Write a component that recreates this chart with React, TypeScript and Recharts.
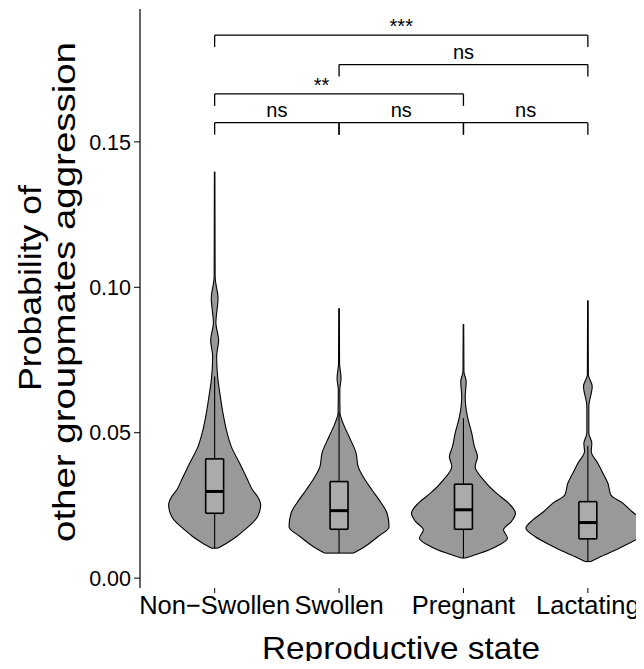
import React from 'react';
import {
  ComposedChart,
  Area,
  XAxis,
  YAxis,
  ReferenceLine,
  ReferenceDot,
} from 'recharts';

const states = ['Non\u2212Swollen', 'Swollen', 'Pregnant', 'Lactating'];

// violin outlines: [probability, half width in category units]
const nonSwollenViolin = [
  [0.0103, 0.024], [0.012, 0.096], [0.0143, 0.177], [0.0166, 0.241], [0.019, 0.305],
  [0.0212, 0.346], [0.0252, 0.37], [0.028, 0.346], [0.0303, 0.305], [0.0338, 0.265],
  [0.0395, 0.201], [0.0452, 0.134], [0.051, 0.094], [0.0567, 0.067], [0.0624, 0.046],
  [0.068, 0.027], [0.0762, 0.016], [0.0819, 0.032], [0.0877, 0.01], [0.0962, 0.027],
  [0.1036, 0.004], [0.12, 0.003], [0.1397, 0.002],
];
const swollenViolin = [
  [0.0086, 0.117], [0.0109, 0.209], [0.0143, 0.314], [0.0177, 0.402], [0.0223, 0.386],
  [0.0269, 0.322], [0.0303, 0.265], [0.0338, 0.209], [0.0384, 0.153], [0.043, 0.137],
  [0.0487, 0.08], [0.0533, 0.032], [0.0567, 0.008], [0.0647, 0.006], [0.0687, 0.016],
  [0.0739, 0.004], [0.0928, 0.002],
];
const pregnantViolin = [
  [0.0069, 0.016], [0.0086, 0.137], [0.0109, 0.265], [0.0137, 0.354], [0.0166, 0.322],
  [0.0195, 0.386], [0.0223, 0.418], [0.0258, 0.362], [0.0292, 0.265], [0.0338, 0.161],
  [0.0384, 0.094], [0.0418, 0.113], [0.0452, 0.088], [0.0498, 0.067], [0.0555, 0.032],
  [0.0624, 0.014], [0.0676, 0.022], [0.071, 0.004], [0.0874, 0.002],
];
const lactatingViolin = [
  [0.0057, 0.024], [0.0074, 0.105], [0.0109, 0.281], [0.0143, 0.426], [0.0172, 0.498],
  [0.02, 0.442], [0.0229, 0.354], [0.0258, 0.281], [0.0286, 0.185], [0.0326, 0.161],
  [0.0361, 0.121], [0.0395, 0.08], [0.0435, 0.027], [0.0464, 0.032], [0.0498, 0.008],
  [0.059, 0.008], [0.066, 0.035], [0.0699, 0.004], [0.0955, 0.002],
];

// boxplot stats per state
const whiskerLow = [0.0103, 0.0086, 0.0069, 0.0057];
const quartile1 = [0.0223, 0.0168, 0.0168, 0.0135];
const medians = [0.0298, 0.0232, 0.0235, 0.0191];
const quartile3 = [0.041, 0.0332, 0.0323, 0.0263];
const whiskerHigh = [0.0693, 0.057, 0.055, 0.0455];

// significance brackets (group indexes are 1-based)
const comparisons = [
  { from: 1, to: 2, y: 0.1566, label: 'ns' },
  { from: 2, to: 3, y: 0.1566, label: 'ns' },
  { from: 3, to: 4, y: 0.1566, label: 'ns' },
  { from: 1, to: 3, y: 0.1665, label: '**', labelAt: 1.86 },
  { from: 2, to: 4, y: 0.1766, label: 'ns' },
  { from: 1, to: 4, y: 0.1867, label: '***' },
];

const yTicks = [0, 0.05, 0.1, 0.15];
const xTicks = [1, 2, 3, 4];

const BOX_HALF = 0.072;
const TIP = 0.0041;
const font = '"Liberation Sans", Arial, sans-serif';

const violins = [nonSwollenViolin, swollenViolin, pregnantViolin, lactatingViolin];
// one small table per violin, each row a [left, right] range at height y
const violinTables = violins.map((pts, i) =>
  pts.map(([y, w]) => ({ y, band: [i + 1 - w, i + 1 + w] }))
);
const boxTables = states.map((_, i) => [
  { y: quartile1[i], band: [i + 1 - BOX_HALF, i + 1 + BOX_HALF] },
  { y: quartile3[i], band: [i + 1 - BOX_HALF, i + 1 + BOX_HALF] },
]);

const seg = (x1: number, y1: number, x2: number, y2: number) => [
  { x: x1, y: y1 },
  { x: x2, y: y2 },
];

export default function App() {
  return (
    <div
      style={{
        margin: -8,
        width: 644,
        height: 669,
        overflow: 'hidden',
        position: 'relative',
        background: '#fff',
        fontFamily: font,
      }}
    >
      <ComposedChart
        layout="vertical"
        width={670}
        height={669}
        data={violinTables[0]}
        margin={{ top: 9, right: 7.5, bottom: 0, left: 0 }}
      >
        <XAxis
          type="number"
          domain={[0.4, 4.6]}
          allowDataOverflow
          ticks={xTicks}
          interval={0}
          tickFormatter={(v) => states[v - 1]}
          axisLine={false}
          tickLine={{ stroke: '#000', strokeWidth: 1 }}
          tickSize={5}
          tickMargin={3}
          height={81}
          tick={{ fontSize: 25.5, fill: '#000' }}
        />
        <YAxis
          type="number"
          dataKey="y"
          reversed
          domain={[-0.0034, 0.1957]}
          allowDataOverflow
          ticks={yTicks}
          interval={0}
          tickFormatter={(v) => v.toFixed(2)}
          width={140}
          axisLine={{ stroke: '#000', strokeWidth: 1.2 }}
          tickLine={{ stroke: '#000', strokeWidth: 1 }}
          tickSize={6}
          tickMargin={3}
          tick={{ fontSize: 21.5, fill: '#000' }}
        />
        {violinTables.map((table, i) => (
          <Area
            key={`violin-${i}`}
            data={table}
            dataKey="band"
            type="monotoneY"
            fill="#999999"
            fillOpacity={1}
            stroke="#000"
            strokeWidth={1.1}
            dot={false}
            activeDot={false}
            isAnimationActive={false}
          />
        ))}
        {violinTables.map((table, i) => (
          <ReferenceLine
            key={`vbottom-${i}`}
            segment={seg(table[0].band[0], table[0].y, table[0].band[1], table[0].y)}
            stroke="#000"
            strokeWidth={1.1}
          />
        ))}
        {boxTables.map((table, i) => (
          <Area
            key={`box-${i}`}
            data={table}
            dataKey="band"
            type="linear"
            fill="#ababab"
            fillOpacity={1}
            stroke="#000"
            strokeWidth={1.6}
            dot={false}
            activeDot={false}
            isAnimationActive={false}
          />
        ))}
        {states.flatMap((_, i) => [
          <ReferenceLine
            key={`wlow-${i}`}
            segment={seg(i + 1, whiskerLow[i], i + 1, quartile1[i])}
            stroke="#000"
            strokeWidth={1.1}
          />,
          <ReferenceLine
            key={`whigh-${i}`}
            segment={seg(i + 1, quartile3[i], i + 1, whiskerHigh[i])}
            stroke="#000"
            strokeWidth={1.1}
          />,
          <ReferenceLine
            key={`q1-${i}`}
            segment={seg(i + 1 - BOX_HALF, quartile1[i], i + 1 + BOX_HALF, quartile1[i])}
            stroke="#000"
            strokeWidth={1.6}
          />,
          <ReferenceLine
            key={`q3-${i}`}
            segment={seg(i + 1 - BOX_HALF, quartile3[i], i + 1 + BOX_HALF, quartile3[i])}
            stroke="#000"
            strokeWidth={1.6}
          />,
          <ReferenceLine
            key={`median-${i}`}
            segment={seg(i + 1 - BOX_HALF, medians[i], i + 1 + BOX_HALF, medians[i])}
            stroke="#000"
            strokeWidth={3}
          />,
        ])}
        {comparisons.flatMap((c, i) => [
          <ReferenceLine
            key={`br-${i}`}
            segment={seg(c.from, c.y, c.to, c.y)}
            stroke="#000"
            strokeWidth={1.3}
          />,
          <ReferenceLine
            key={`tipl-${i}`}
            segment={seg(c.from, c.y, c.from, c.y - TIP)}
            stroke="#000"
            strokeWidth={1.3}
          />,
          <ReferenceLine
            key={`tipr-${i}`}
            segment={seg(c.to, c.y, c.to, c.y - TIP)}
            stroke="#000"
            strokeWidth={1.3}
          />,
        ])}
        {comparisons.map((c, i) => (
          <ReferenceDot
            key={`lab-${i}`}
            x={c.labelAt ?? (c.from + c.to) / 2}
            y={c.y}
            r={0}
            fill="none"
            stroke="none"
            label={{
              value: c.label,
              position: 'top',
              offset: c.label.startsWith('*') ? 2 : 6,
              fontSize: 20,
              fill: '#000',
            }}
          />
        ))}
      </ComposedChart>
      <svg
        width={644}
        height={669}
        style={{ position: 'absolute', left: 0, top: 0, pointerEvents: 'none' }}
      >
        <g fontSize={32} fill="#000" textAnchor="middle" fontFamily={font}>
          <text
            transform="translate(41,288) rotate(-90)"
            textLength={206}
            lengthAdjust="spacingAndGlyphs"
          >
            Probability of
          </text>
          <text
            transform="translate(75,292) rotate(-90)"
            textLength={500}
            lengthAdjust="spacingAndGlyphs"
          >
            other groupmates aggression
          </text>
          <text x={401} y={659} textLength={278} lengthAdjust="spacingAndGlyphs">
            Reproductive state
          </text>
        </g>
      </svg>
    </div>
  );
}
